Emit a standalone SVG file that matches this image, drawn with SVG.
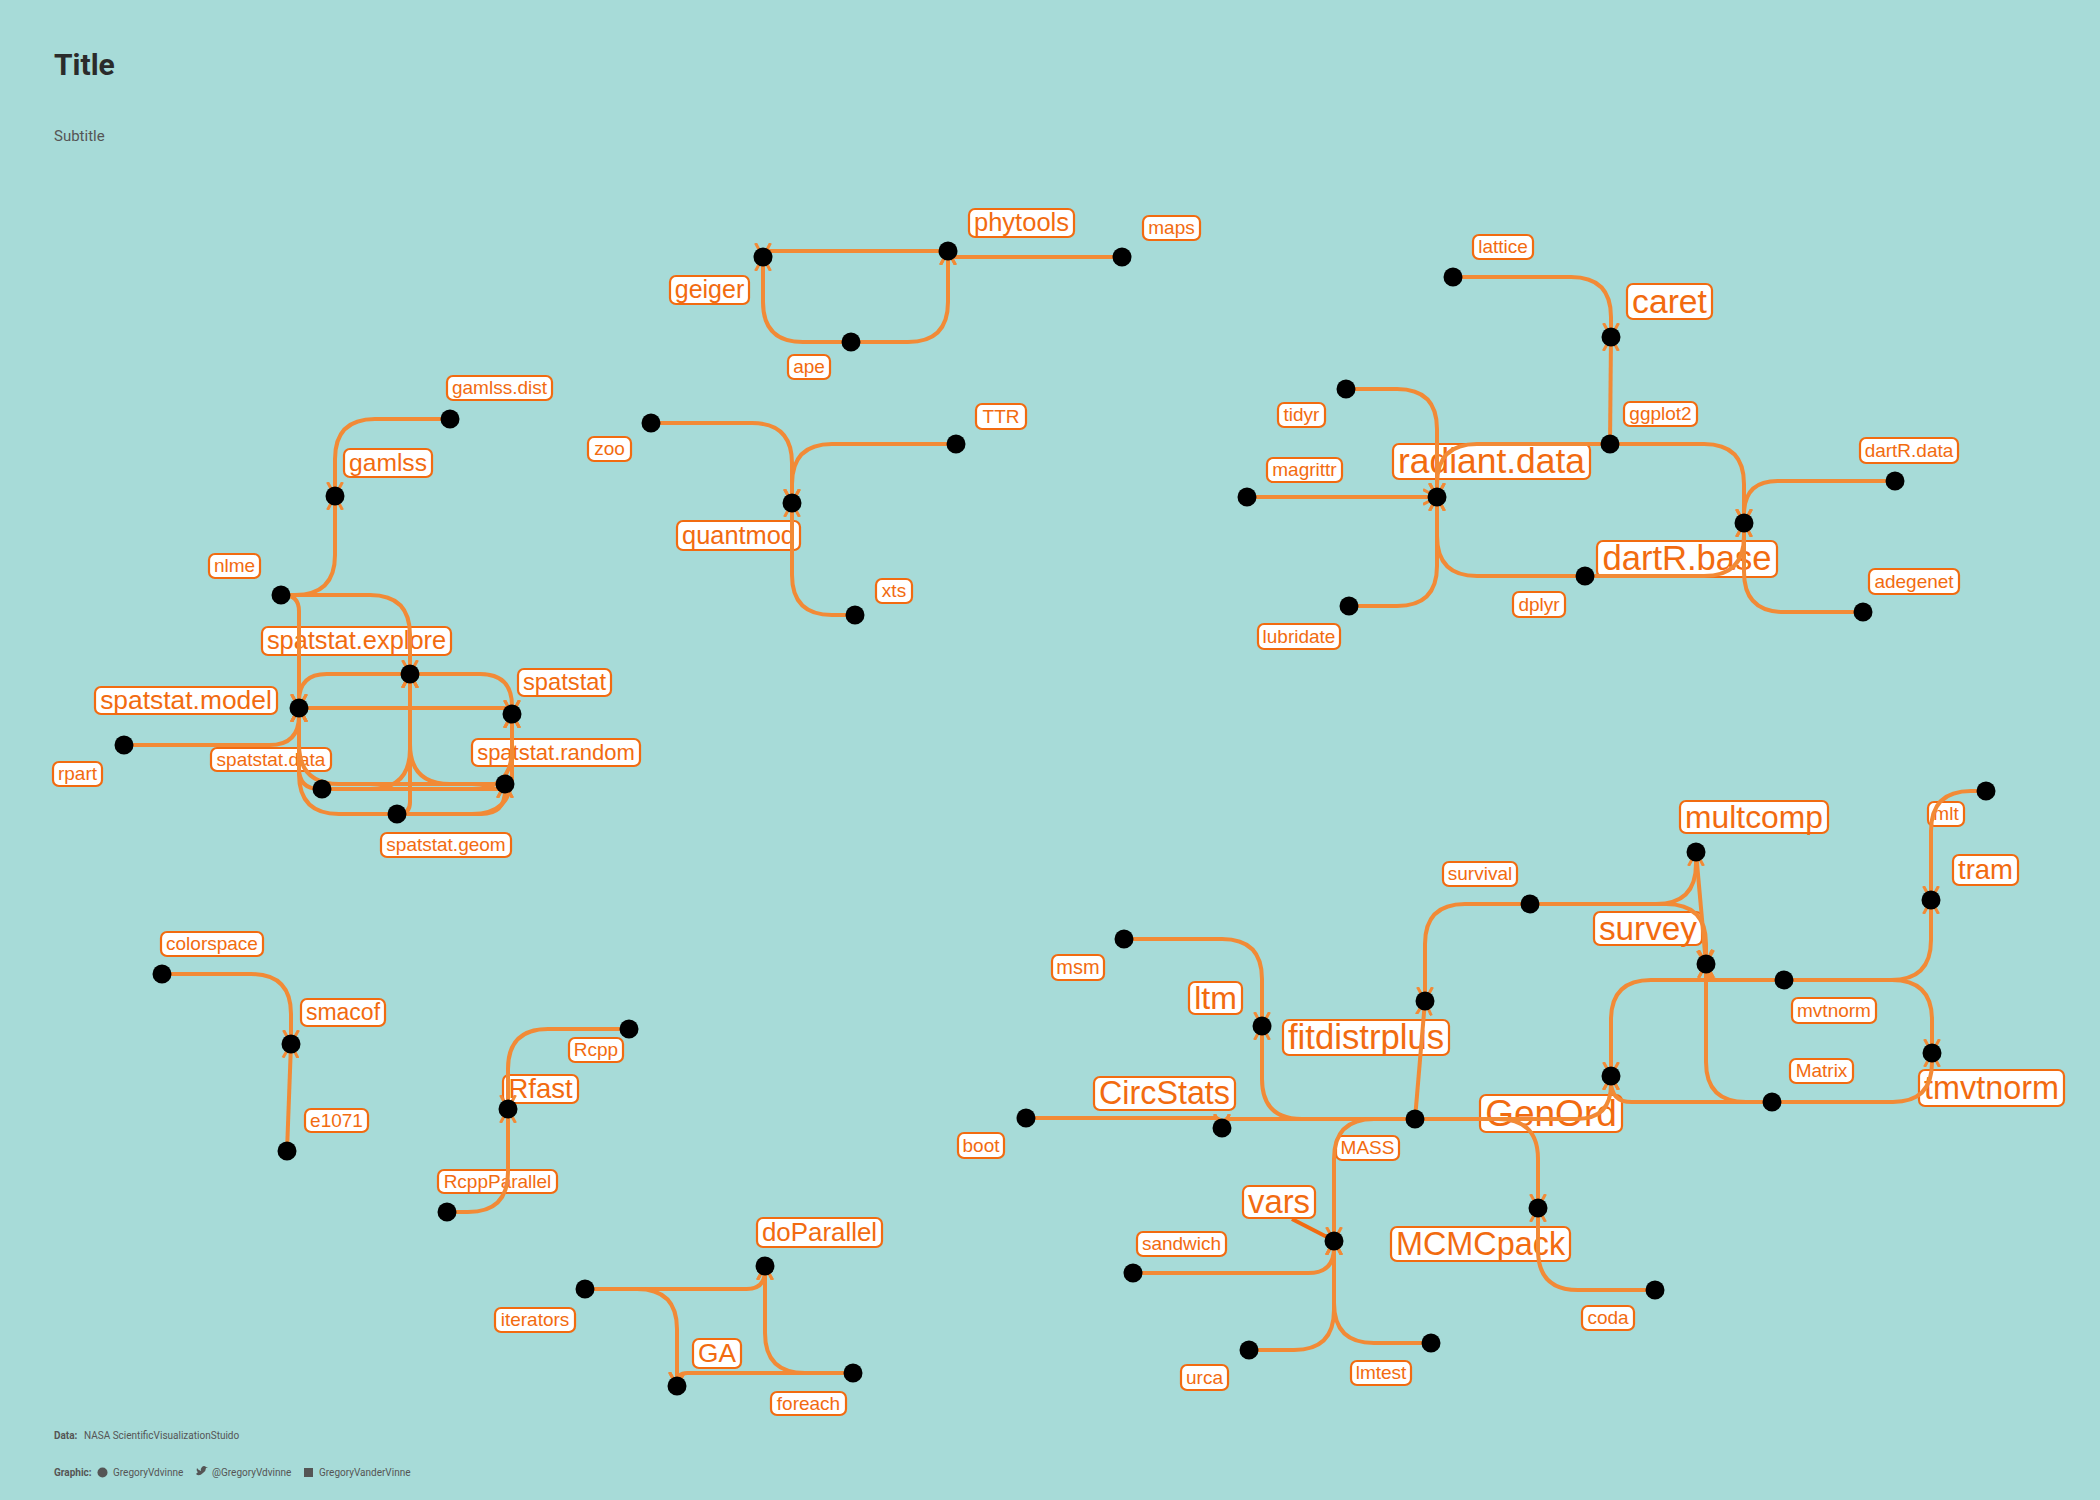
<svg xmlns="http://www.w3.org/2000/svg" width="2100" height="1500" viewBox="0 0 2100 1500">
<style>
.lb rect{fill:#ffffff;stroke:#F26B10;stroke-width:2.2}
.lb text{font-family:"Liberation Sans",Arial,sans-serif;fill:#F26B10;text-anchor:middle}
#edges path{fill:none;stroke:#F28A36;stroke-width:4;marker-end:url(#arr)}
#edges line{stroke:#F26B10;stroke-width:4}
#nodes circle{fill:#000000}
.ttl{font-family:Roboto,"Liberation Sans",sans-serif;font-weight:700;font-size:30px;fill:#2b2b2b}
.sub{font-family:Roboto,"Liberation Sans",sans-serif;font-size:15px;fill:#555555}
.cap{font-family:Roboto,"Liberation Sans",sans-serif;font-size:10px;fill:#555555}
.capb{font-family:Roboto,"Liberation Sans",sans-serif;font-size:10px;font-weight:700;fill:#555555}
</style>
<defs>
<marker id="arr" viewBox="0 0 18 18" refX="14" refY="9" markerWidth="18" markerHeight="18" markerUnits="userSpaceOnUse" orient="auto">
<path d="M0,1.5 L14,9 L0,16.5" fill="none" stroke="#F28A36" stroke-width="3"/>
</marker>
</defs>
<rect x="0" y="0" width="2100" height="1500" fill="#A7DBD8"/>
<g id="titles">
<text class="ttl" x="54" y="75">Title</text>
<text class="sub" x="54" y="141">Subtitle</text>
</g>
<g id="caption">
<text x="54" y="1439"><tspan class="capb">Data:</tspan><tspan class="cap" x="84">NASA ScientificVisualizationStuido</tspan></text>
<text class="capb" x="54" y="1476">Graphic:</text>
<circle cx="102.5" cy="1472.5" r="5" fill="#555555"/>
<text class="cap" x="113" y="1476">GregoryVdvinne</text>
<path d="M196,1474 Q199,1477 203,1473 Q206,1471 206,1468 L208,1467 L206,1467 Q204,1465 202,1467 Q200,1469 201,1471 Q198,1470 197,1468 Q196,1471 198,1472 Z" fill="#555555"/>
<text class="cap" x="212" y="1476">@GregoryVdvinne</text>
<rect x="304" y="1468" width="9" height="9" fill="#555555"/>
<text class="cap" x="319" y="1476">GregoryVanderVinne</text>
</g>
<g id="labels">
<g id="label-geiger" class="lb"><rect x="670" y="276" width="79" height="28" rx="6"/><text x="709.5" y="298.3" font-size="25">geiger</text></g>
<g id="label-phytools" class="lb"><rect x="969" y="209" width="105" height="28" rx="6"/><text x="1021.5" y="231.4" font-size="25.5">phytools</text></g>
<g id="label-maps" class="lb"><rect x="1143" y="216" width="57" height="24" rx="6"/><text x="1171.5" y="234.3" font-size="19">maps</text></g>
<g id="label-ape" class="lb"><rect x="788" y="355" width="42" height="24" rx="6"/><text x="809" y="373.3" font-size="19">ape</text></g>
<g id="label-zoo" class="lb"><rect x="588" y="437" width="43" height="24" rx="6"/><text x="609.5" y="455.3" font-size="19">zoo</text></g>
<g id="label-quantmod" class="lb"><rect x="677" y="521" width="123" height="29" rx="6"/><text x="738.5" y="543.9" font-size="25.4">quantmod</text></g>
<g id="label-xts" class="lb"><rect x="876" y="579" width="36" height="24" rx="6"/><text x="894" y="597.3" font-size="19">xts</text></g>
<g id="label-TTR" class="lb"><rect x="976" y="404" width="50" height="25" rx="6"/><text x="1001" y="422.8" font-size="19">TTR</text></g>
<g id="label-gamlss.dist" class="lb"><rect x="447" y="376" width="105" height="24" rx="6"/><text x="499.5" y="394.3" font-size="19">gamlss.dist</text></g>
<g id="label-gamlss" class="lb"><rect x="344" y="449" width="88" height="28" rx="6"/><text x="388" y="471.1" font-size="24.6">gamlss</text></g>
<g id="label-nlme" class="lb"><rect x="209" y="554" width="51" height="24" rx="6"/><text x="234.5" y="572.3" font-size="19">nlme</text></g>
<g id="label-spatstat.explore" class="lb"><rect x="262" y="627" width="189" height="28" rx="6"/><text x="356.5" y="649.4" font-size="25.4">spatstat.explore</text></g>
<g id="label-spatstat" class="lb"><rect x="518" y="669" width="93" height="27" rx="6"/><text x="564.5" y="690.3" font-size="23.7">spatstat</text></g>
<g id="label-spatstat.model" class="lb"><rect x="95" y="687" width="182" height="27" rx="6"/><text x="186" y="709.2" font-size="26.4">spatstat.model</text></g>
<g id="label-rpart" class="lb"><rect x="53" y="762" width="49" height="24" rx="6"/><text x="77.5" y="780.3" font-size="19">rpart</text></g>
<g id="label-spatstat.random" class="lb"><rect x="472" y="739" width="168" height="27" rx="6"/><text x="556" y="759.8" font-size="22">spatstat.random</text></g>
<g id="label-spatstat.data" class="lb"><rect x="211" y="748" width="120" height="23" rx="6"/><text x="271" y="765.8" font-size="19">spatstat.data</text></g>
<g id="label-spatstat.geom" class="lb"><rect x="381" y="833" width="130" height="24" rx="6"/><text x="446" y="851.3" font-size="19">spatstat.geom</text></g>
<g id="label-lattice" class="lb"><rect x="1473" y="235" width="60" height="24" rx="6"/><text x="1503" y="253.3" font-size="19">lattice</text></g>
<g id="label-caret" class="lb"><rect x="1627" y="284" width="85" height="35" rx="6"/><text x="1669.5" y="312.6" font-size="33.7">caret</text></g>
<g id="label-tidyr" class="lb"><rect x="1278" y="403" width="47" height="24" rx="6"/><text x="1301.5" y="421.3" font-size="19">tidyr</text></g>
<g id="label-ggplot2" class="lb"><rect x="1624" y="402" width="73" height="24" rx="6"/><text x="1660.5" y="420.3" font-size="19">ggplot2</text></g>
<g id="label-magrittr" class="lb"><rect x="1267" y="458" width="75" height="24" rx="6"/><text x="1304.5" y="476.3" font-size="19">magrittr</text></g>
<g id="label-radiant.data" class="lb"><rect x="1393" y="444" width="197" height="35" rx="6"/><text x="1491.5" y="473.2" font-size="35.4">radiant.data</text></g>
<g id="label-dartR.data" class="lb"><rect x="1860" y="438" width="98" height="25" rx="6"/><text x="1909" y="456.8" font-size="19">dartR.data</text></g>
<g id="label-dartR.base" class="lb"><rect x="1597" y="541" width="180" height="36" rx="6"/><text x="1687" y="570.4" font-size="34.6">dartR.base</text></g>
<g id="label-adegenet" class="lb"><rect x="1869" y="569" width="90" height="25" rx="6"/><text x="1914" y="587.8" font-size="19">adegenet</text></g>
<g id="label-dplyr" class="lb"><rect x="1513" y="592" width="52" height="25" rx="6"/><text x="1539" y="610.8" font-size="19">dplyr</text></g>
<g id="label-lubridate" class="lb"><rect x="1258" y="624" width="82" height="25" rx="6"/><text x="1299" y="642.8" font-size="19">lubridate</text></g>
<g id="label-colorspace" class="lb"><rect x="161" y="932" width="102" height="24" rx="6"/><text x="212" y="950.3" font-size="19">colorspace</text></g>
<g id="label-smacof" class="lb"><rect x="301" y="999" width="84" height="27" rx="6"/><text x="343" y="1020.1" font-size="23">smacof</text></g>
<g id="label-e1071" class="lb"><rect x="305" y="1109" width="63" height="23" rx="6"/><text x="336.5" y="1126.8" font-size="19">e1071</text></g>
<g id="label-Rcpp" class="lb"><rect x="569" y="1038" width="54" height="24" rx="6"/><text x="596" y="1056.3" font-size="19">Rcpp</text></g>
<g id="label-Rfast" class="lb"><rect x="503" y="1075" width="75" height="28" rx="6"/><text x="540.5" y="1098.1" font-size="27.5">Rfast</text></g>
<g id="label-RcppParallel" class="lb"><rect x="438" y="1170" width="119" height="23" rx="6"/><text x="497.5" y="1187.8" font-size="19">RcppParallel</text></g>
<g id="label-doParallel" class="lb"><rect x="757" y="1218" width="125" height="29" rx="6"/><text x="819.5" y="1241" font-size="25.9">doParallel</text></g>
<g id="label-iterators" class="lb"><rect x="495" y="1308" width="80" height="24" rx="6"/><text x="535" y="1326.3" font-size="19">iterators</text></g>
<g id="label-GA" class="lb"><rect x="693" y="1339" width="48" height="29" rx="6"/><text x="717" y="1362.2" font-size="26.3">GA</text></g>
<g id="label-foreach" class="lb"><rect x="771" y="1392" width="75" height="23" rx="6"/><text x="808.5" y="1409.8" font-size="19">foreach</text></g>
<g id="label-mlt" class="lb"><rect x="1928" y="802" width="36" height="24" rx="6"/><text x="1946" y="820.3" font-size="19">mlt</text></g>
<g id="label-multcomp" class="lb"><rect x="1680" y="801" width="148" height="32" rx="6"/><text x="1754" y="827.5" font-size="31.8">multcomp</text></g>
<g id="label-tram" class="lb"><rect x="1953" y="855" width="65" height="30" rx="6"/><text x="1985.5" y="879.1" font-size="27.5">tram</text></g>
<g id="label-survival" class="lb"><rect x="1443" y="862" width="74" height="24" rx="6"/><text x="1480" y="880.3" font-size="19">survival</text></g>
<g id="label-survey" class="lb"><rect x="1594" y="912" width="108" height="33" rx="6"/><text x="1648" y="939.5" font-size="33.3">survey</text></g>
<g id="label-msm" class="lb"><rect x="1052" y="955" width="52" height="25" rx="6"/><text x="1078" y="974.1" font-size="20">msm</text></g>
<g id="label-ltm" class="lb"><rect x="1189" y="982" width="53" height="32" rx="6"/><text x="1215.5" y="1008.6" font-size="32">ltm</text></g>
<g id="label-fitdistrplus" class="lb"><rect x="1283" y="1020" width="166" height="35" rx="6"/><text x="1366" y="1049" font-size="34.7">fitdistrplus</text></g>
<g id="label-mvtnorm" class="lb"><rect x="1792" y="998" width="84" height="25" rx="6"/><text x="1834" y="1016.8" font-size="19">mvtnorm</text></g>
<g id="label-Matrix" class="lb"><rect x="1790" y="1059" width="63" height="24" rx="6"/><text x="1821.5" y="1077.3" font-size="19">Matrix</text></g>
<g id="label-tmvtnorm" class="lb"><rect x="1919" y="1070" width="145" height="36" rx="6"/><text x="1991.5" y="1098.7" font-size="32.4">tmvtnorm</text></g>
<g id="label-GenOrd" class="lb"><rect x="1480" y="1095" width="142" height="37" rx="6"/><text x="1551" y="1125.7" font-size="37">GenOrd</text></g>
<g id="label-CircStats" class="lb"><rect x="1094" y="1077" width="141" height="33" rx="6"/><text x="1164.5" y="1104.2" font-size="32.3">CircStats</text></g>
<g id="label-MASS" class="lb"><rect x="1336" y="1136" width="63" height="24" rx="6"/><text x="1367.5" y="1154.3" font-size="19">MASS</text></g>
<g id="label-boot" class="lb"><rect x="958" y="1133" width="46" height="25" rx="6"/><text x="981" y="1151.8" font-size="19">boot</text></g>
<g id="label-vars" class="lb"><rect x="1243" y="1186" width="72" height="32" rx="6"/><text x="1279" y="1212.8" font-size="32.8">vars</text></g>
<g id="label-sandwich" class="lb"><rect x="1137" y="1232" width="89" height="24" rx="6"/><text x="1181.5" y="1250.3" font-size="19">sandwich</text></g>
<g id="label-MCMCpack" class="lb"><rect x="1391" y="1227" width="179" height="34" rx="6"/><text x="1480.5" y="1254.7" font-size="32.4">MCMCpack</text></g>
<g id="label-coda" class="lb"><rect x="1582" y="1306" width="52" height="24" rx="6"/><text x="1608" y="1324.3" font-size="19">coda</text></g>
<g id="label-urca" class="lb"><rect x="1181" y="1365" width="47" height="25" rx="6"/><text x="1204.5" y="1383.8" font-size="19">urca</text></g>
<g id="label-lmtest" class="lb"><rect x="1351" y="1361" width="60" height="24" rx="6"/><text x="1381" y="1379.3" font-size="19">lmtest</text></g>
</g>
<g id="edges">
<path d="M851,342 L803,342 Q763,342 763,302 L763,257"/>
<path d="M851,342 L908,342 Q948,342 948,302 L948,251"/>
<path d="M948,251 L767.8,251 Q763,251 763,255.8 L763,257"/>
<path d="M1122,257 L952.8,257 Q948,257 948,252.2 L948,251"/>
<path d="M651,423 L752,423 Q792,423 792,463 L792,503"/>
<path d="M956,444 L832,444 Q792,444 792,484 L792,503"/>
<path d="M855,615 L832,615 Q792,615 792,575 L792,503"/>
<path d="M450,419 L375,419 Q335,419 335,459 L335,496"/>
<path d="M281,595 L295,595 Q335,595 335,555 L335,496"/>
<path d="M281,595 L370,595 Q410,595 410,635 L410,674"/>
<path d="M281,595 L282.8,595 Q299,595 299,611.2 L299,708"/>
<path d="M410,674 L326.8,674 Q299,674 299,701.2 L299,708"/>
<path d="M410,674 L480,674 Q512,674 512,706 L512,714"/>
<path d="M299,708 L507.2,708 Q512,708 512,712.8 L512,714"/>
<path d="M124,745 L269.4,745 Q299,745 299,715.4 L299,708"/>
<path d="M505,784 L505.7,784 Q512,784 512,777.7 L512,714"/>
<path d="M322,789 L501,789 Q505,789 505,785 L505,784"/>
<path d="M397,814 L481,814 Q505,814 505,790 L505,784"/>
<path d="M322,789 L319.3,789 Q299,789 299,768.3 L299,708"/>
<path d="M397,814 L339,814 Q299,814 299,774 L299,708"/>
<path d="M505,784 L339,784 Q299,784 299,744 L299,708"/>
<path d="M322,789 L370,789 Q410,789 410,749 L410,674"/>
<path d="M505,784 L450,784 Q410,784 410,744 L410,674"/>
<path d="M397,814 L398.3,814 Q410,814 410,802.3 L410,674"/>
<path d="M397,814 L472,814 Q512,814 512,774 L512,714"/>
<path d="M322,789 L472,789 Q512,789 512,749 L512,714"/>
<path d="M1453,277 L1571,277 Q1611,277 1611,317 L1611,337"/>
<path d="M1610,444 L1611,337"/>
<path d="M1346,389 L1397,389 Q1437,389 1437,429 L1437,497"/>
<path d="M1247,497 L1437,497"/>
<path d="M1349,606 L1397,606 Q1437,606 1437,566 L1437,497"/>
<path d="M1585,576 L1477,576 Q1437,576 1437,536 L1437,497"/>
<path d="M1610,444 L1477,444 Q1437,444 1437,484 L1437,497"/>
<path d="M1610,444 L1704,444 Q1744,444 1744,484 L1744,523"/>
<path d="M1895,481 L1777.6,481 Q1744,481 1744,514.6 L1744,523"/>
<path d="M1863,612 L1784,612 Q1744,612 1744,572 L1744,523"/>
<path d="M1585,576 L1704,576 Q1744,576 1744,536 L1744,523"/>
<path d="M162,974 L251,974 Q291,974 291,1014 L291,1044"/>
<path d="M287,1151 L291,1044"/>
<path d="M629,1029 L548,1029 Q508,1029 508,1069 L508,1109"/>
<path d="M447,1212 L468,1212 Q508,1212 508,1172 L508,1109"/>
<path d="M585,1289 L746.6,1289 Q765,1289 765,1270.6 L765,1266"/>
<path d="M585,1289 L637,1289 Q677,1289 677,1329 L677,1386"/>
<path d="M853,1373 L805,1373 Q765,1373 765,1333 L765,1266"/>
<path d="M853,1373 L687.4,1373 Q677,1373 677,1383.4 L677,1386"/>
<path d="M1530,904 L1656,904 Q1696,904 1696,864 L1696,852"/>
<path d="M1530,904 L1666,904 Q1706,904 1706,944 L1706,964"/>
<path d="M1696,852 L1706,964"/>
<path d="M1530,904 L1465,904 Q1425,904 1425,944 L1425,1001"/>
<path d="M1415,1119 L1425,1001"/>
<path d="M1124,939 L1222,939 Q1262,939 1262,979 L1262,1026"/>
<path d="M1415,1119 L1302,1119 Q1262,1119 1262,1079 L1262,1026"/>
<path d="M1026,1118 L1214,1118 Q1222,1118 1222,1126 L1222,1128"/>
<path d="M1415,1119 L1229.2,1119 Q1222,1119 1222,1126.2 L1222,1128"/>
<path d="M1415,1119 L1576.6,1119 Q1611,1119 1611,1084.6 L1611,1076"/>
<path d="M1415,1119 L1498,1119 Q1538,1119 1538,1159 L1538,1208"/>
<path d="M1415,1119 L1374,1119 Q1334,1119 1334,1159 L1334,1241"/>
<path d="M1133,1273 L1308.4,1273 Q1334,1273 1334,1247.4 L1334,1241"/>
<path d="M1249,1350 L1294,1350 Q1334,1350 1334,1310 L1334,1241"/>
<path d="M1431,1343 L1374,1343 Q1334,1343 1334,1303 L1334,1241"/>
<path d="M1655,1290 L1578,1290 Q1538,1290 1538,1250 L1538,1208"/>
<path d="M1784,980 L1651,980 Q1611,980 1611,1020 L1611,1076"/>
<path d="M1772,1102 L1631.8,1102 Q1611,1102 1611,1081.2 L1611,1076"/>
<path d="M1784,980 L1892,980 Q1932,980 1932,1020 L1932,1053"/>
<path d="M1772,1102 L1892.8,1102 Q1932,1102 1932,1062.8 L1932,1053"/>
<path d="M1784,980 L1891,980 Q1931,980 1931,940 L1931,900"/>
<path d="M1986,791 L1971,791 Q1931,791 1931,831 L1931,900"/>
<path d="M1784,980 L1718.8,980 Q1706,980 1706,967.2 L1706,964"/>
<path d="M1772,1102 L1746,1102 Q1706,1102 1706,1062 L1706,964"/>
<line x1="1292" y1="1219" x2="1327" y2="1237"/>
</g>
<g id="nodes">
<g id="node-geiger"><circle cx="763" cy="257" r="9.5"/></g>
<g id="node-phytools"><circle cx="948" cy="251" r="9.5"/></g>
<g id="node-maps"><circle cx="1122" cy="257" r="9.5"/></g>
<g id="node-ape"><circle cx="851" cy="342" r="9.5"/></g>
<g id="node-zoo"><circle cx="651" cy="423" r="9.5"/></g>
<g id="node-TTR"><circle cx="956" cy="444" r="9.5"/></g>
<g id="node-quantmod"><circle cx="792" cy="503" r="9.5"/></g>
<g id="node-xts"><circle cx="855" cy="615" r="9.5"/></g>
<g id="node-gamlss.dist"><circle cx="450" cy="419" r="9.5"/></g>
<g id="node-gamlss"><circle cx="335" cy="496" r="9.5"/></g>
<g id="node-nlme"><circle cx="281" cy="595" r="9.5"/></g>
<g id="node-spatstat.explore"><circle cx="410" cy="674" r="9.5"/></g>
<g id="node-spatstat.model"><circle cx="299" cy="708" r="9.5"/></g>
<g id="node-spatstat"><circle cx="512" cy="714" r="9.5"/></g>
<g id="node-rpart"><circle cx="124" cy="745" r="9.5"/></g>
<g id="node-spatstat.random"><circle cx="505" cy="784" r="9.5"/></g>
<g id="node-spatstat.data"><circle cx="322" cy="789" r="9.5"/></g>
<g id="node-spatstat.geom"><circle cx="397" cy="814" r="9.5"/></g>
<g id="node-lattice"><circle cx="1453" cy="277" r="9.5"/></g>
<g id="node-caret"><circle cx="1611" cy="337" r="9.5"/></g>
<g id="node-tidyr"><circle cx="1346" cy="389" r="9.5"/></g>
<g id="node-ggplot2"><circle cx="1610" cy="444" r="9.5"/></g>
<g id="node-magrittr"><circle cx="1247" cy="497" r="9.5"/></g>
<g id="node-radiant.data"><circle cx="1437" cy="497" r="9.5"/></g>
<g id="node-dartR.base"><circle cx="1744" cy="523" r="9.5"/></g>
<g id="node-dartR.data"><circle cx="1895" cy="481" r="9.5"/></g>
<g id="node-dplyr"><circle cx="1585" cy="576" r="9.5"/></g>
<g id="node-adegenet"><circle cx="1863" cy="612" r="9.5"/></g>
<g id="node-lubridate"><circle cx="1349" cy="606" r="9.5"/></g>
<g id="node-colorspace"><circle cx="162" cy="974" r="9.5"/></g>
<g id="node-smacof"><circle cx="291" cy="1044" r="9.5"/></g>
<g id="node-e1071"><circle cx="287" cy="1151" r="9.5"/></g>
<g id="node-Rcpp"><circle cx="629" cy="1029" r="9.5"/></g>
<g id="node-Rfast"><circle cx="508" cy="1109" r="9.5"/></g>
<g id="node-RcppParallel"><circle cx="447" cy="1212" r="9.5"/></g>
<g id="node-iterators"><circle cx="585" cy="1289" r="9.5"/></g>
<g id="node-doParallel"><circle cx="765" cy="1266" r="9.5"/></g>
<g id="node-GA"><circle cx="677" cy="1386" r="9.5"/></g>
<g id="node-foreach"><circle cx="853" cy="1373" r="9.5"/></g>
<g id="node-mlt"><circle cx="1986" cy="791" r="9.5"/></g>
<g id="node-multcomp"><circle cx="1696" cy="852" r="9.5"/></g>
<g id="node-tram"><circle cx="1931" cy="900" r="9.5"/></g>
<g id="node-survival"><circle cx="1530" cy="904" r="9.5"/></g>
<g id="node-survey"><circle cx="1706" cy="964" r="9.5"/></g>
<g id="node-mvtnorm"><circle cx="1784" cy="980" r="9.5"/></g>
<g id="node-msm"><circle cx="1124" cy="939" r="9.5"/></g>
<g id="node-fitdistrplus"><circle cx="1425" cy="1001" r="9.5"/></g>
<g id="node-ltm"><circle cx="1262" cy="1026" r="9.5"/></g>
<g id="node-tmvtnorm"><circle cx="1932" cy="1053" r="9.5"/></g>
<g id="node-GenOrd"><circle cx="1611" cy="1076" r="9.5"/></g>
<g id="node-Matrix"><circle cx="1772" cy="1102" r="9.5"/></g>
<g id="node-MASS"><circle cx="1415" cy="1119" r="9.5"/></g>
<g id="node-CircStats"><circle cx="1222" cy="1128" r="9.5"/></g>
<g id="node-boot"><circle cx="1026" cy="1118" r="9.5"/></g>
<g id="node-vars"><circle cx="1334" cy="1241" r="9.5"/></g>
<g id="node-sandwich"><circle cx="1133" cy="1273" r="9.5"/></g>
<g id="node-MCMCpack"><circle cx="1538" cy="1208" r="9.5"/></g>
<g id="node-coda"><circle cx="1655" cy="1290" r="9.5"/></g>
<g id="node-urca"><circle cx="1249" cy="1350" r="9.5"/></g>
<g id="node-lmtest"><circle cx="1431" cy="1343" r="9.5"/></g>
</g>
</svg>
